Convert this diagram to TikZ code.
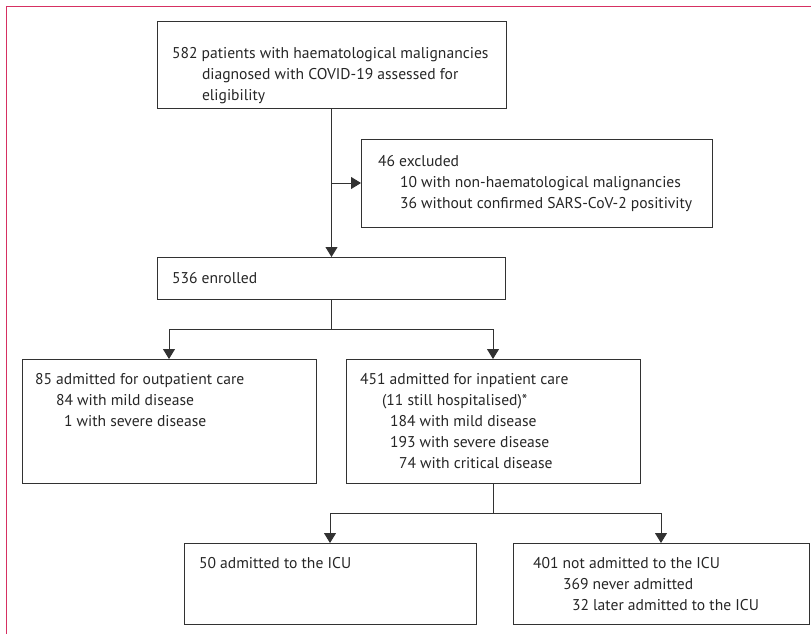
\documentclass[tikz,border=0pt]{standalone}
\usepackage{fontspec}
\setmainfont{PT Sans}
\usepackage{xcolor}
\usetikzlibrary{arrows.meta,calc}
\definecolor{framered}{RGB}{214,48,98}
\definecolor{boxgray}{RGB}{50,50,50}
\newcommand{\boxtext}[1]{\parbox[t]{345pt}{\raggedright #1}}

\begin{document}
\begin{tikzpicture}[x=1pt,y=-1pt]
\tikzstyle{every node}+=[inner sep=0pt, outer sep=0pt]
\tikzstyle{flowbox}=[draw=boxgray, line width=1pt, anchor=north west]
\tikzstyle{boxlabel}=[anchor=base west, text=black!85, font=\fontsize{15.6}{21}\selectfont]
\tikzstyle{flowline}=[draw=boxgray, line width=1pt]
\tikzstyle{flowarrow}=[flowline, -{Triangle[width=12pt,length=10pt]}]
\useasboundingbox (0,0) rectangle (811,634);
\draw [framered, line width=1pt] (6.5,634) -- (6.5,6.5) -- (811,6.5);
\node [flowbox, minimum width=349pt, minimum height=86pt] (assessed) at (157,22) {};
\node [boxlabel] (assessedtxt) at (172,59) {\boxtext{582 patients with haematological malignancies\\\hspace*{30pt}diagnosed with COVID-19 assessed for\\\hspace*{30pt}eligibility}};
\node [flowbox, minimum width=351pt, minimum height=88pt] (excluded) at (361,139) {};
\node [boxlabel] (excludedtxt) at (378,166) {\boxtext{46 excluded\\\hspace*{22pt}10 with non-haematological malignancies\\\hspace*{22pt}36 without confirmed SARS-CoV-2 positivity}};
\node [flowbox, minimum width=348pt, minimum height=42pt] (enrolled) at (157,257) {};
\node [boxlabel] (enrolledtxt) at (172,283) {536 enrolled};
\node [flowbox, minimum width=294pt, minimum height=124pt] (outpat) at (22,359) {};
\node [boxlabel] (outpattxt) at (35,384) {\boxtext{85 admitted for outpatient care\\\hspace*{21pt}84 with mild disease\\\hspace*{29pt}1 with severe disease}};
\node [flowbox, minimum width=294pt, minimum height=124pt] (inpat) at (346,359) {};
\node [boxlabel] (inpattxt) at (360,384) {\boxtext{451 admitted for inpatient care\\\hspace*{22pt}(11 still hospitalised)*\\\hspace*{30pt}184 with mild disease\\\hspace*{30pt}193 with severe disease\\\hspace*{39pt}74 with critical disease}};
\node [flowbox, minimum width=292pt, minimum height=81pt] (icu) at (184,543) {};
\node [boxlabel] (icutxt) at (199,568) {50 admitted to the ICU};
\node [flowbox, minimum width=296pt, minimum height=81pt] (noicu) at (513,543) {};
\node [boxlabel] (noicutxt) at (533,568) {\boxtext{401 not admitted to the ICU\\\hspace*{30pt}369 never admitted\\\hspace*{39pt}32 later admitted to the ICU}};
\coordinate (excsplit) at (assessed.south |- excluded.west);
\draw [flowarrow] (assessed.south) -- (assessed.south |- enrolled.north);
\draw [flowarrow] (excsplit) -- (excluded.west);
\coordinate (carefork) at ($(enrolled.south)+(0,30)$);
\draw [flowline] (enrolled.south) -- (carefork);
\draw [flowarrow] (carefork) -| (outpat.north);
\draw [flowarrow] (carefork) -| (inpat.north);
\coordinate (icufork) at ($(inpat.south)+(0,30)$);
\draw [flowline] (inpat.south) -- (icufork);
\draw [flowarrow] (icufork) -| (icu.north);
\draw [flowarrow] (icufork) -| (noicu.north);
\end{tikzpicture}
\end{document}
